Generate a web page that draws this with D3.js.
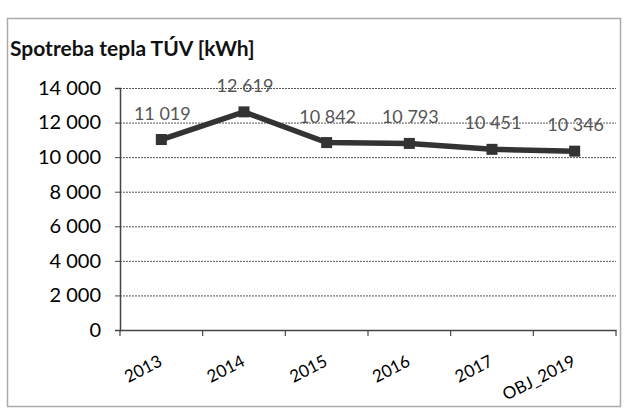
<!DOCTYPE html>
<html><head><meta charset="utf-8">
<script src="https://cdn.jsdelivr.net/npm/d3@7"></script>
<style>body{margin:0;background:#fff}svg{display:block}</style>
</head><body>
<svg id="c" width="627" height="413"></svg>
<script>
const categories = ["2013","2014","2015","2016","2017","OBJ_2019"];
const values = [11019, 12619, 10842, 10793, 10451, 10346];
const valueLabels = ["11 019","12 619","10 842","10 793","10 451","10 346"];
const yTicks = [0,2000,4000,6000,8000,10000,12000,14000];
const title = "Spotreba tepla TÚV [kWh]";

const svg = d3.select("#c");
const font = "Lato, 'Open Sans', sans-serif";
const m = {left:120, right:616, top:88, bottom:330};

// outer frame
svg.append("rect").attr("x",7.5).attr("y",18.5).attr("width",613).attr("height",388)
  .attr("fill","#fff").attr("stroke","#aaa").attr("stroke-width",1.5);

svg.append("text").attr("x",10).attr("y",56).text(title)
  .attr("font-family",font).attr("font-weight","bold").attr("font-size",21).attr("fill","#111");

const x = d3.scaleBand().domain(categories).range([m.left,m.right]);
const y = d3.scaleLinear().domain([0,14000]).range([m.bottom,m.top]);

// gridlines
svg.append("g").selectAll("line").data(yTicks.filter(d=>d>0)).join("line")
  .attr("x1",m.left).attr("x2",m.right)
  .attr("y1",d=>y(d)+0.5).attr("y2",d=>y(d)+0.5)
  .attr("stroke","#555").attr("stroke-width",1).attr("stroke-dasharray","2,1");

// y axis
const ya = svg.append("g").attr("transform",`translate(${m.left},0)`)
  .call(d3.axisLeft(y).tickValues(yTicks).tickSize(5).tickFormat(d=>d3.format(",")(d).replace(/,/g," ")));
ya.select(".domain").attr("stroke","#444").attr("stroke-width",1.5);
ya.selectAll(".tick line").attr("stroke","#444");
ya.selectAll(".tick text").attr("font-family",font).attr("font-size",20).attr("fill","#000").attr("x",-19);

// x axis
const xa = svg.append("g").attr("transform",`translate(0,${m.bottom})`)
  .call(d3.axisBottom(x).tickSize(0).tickFormat(""));
xa.select(".domain").attr("stroke","#444").attr("stroke-width",1.5);
svg.append("g").selectAll("line").data(d3.range(categories.length+1)).join("line")
  .attr("x1",i=>m.left+i*x.step()).attr("x2",i=>m.left+i*x.step())
  .attr("y1",m.bottom).attr("y2",m.bottom+6).attr("stroke","#444").attr("stroke-width",1.2);

svg.append("g").selectAll("text").data(categories).join("text")
  .attr("transform",d=>`translate(${x(d)+x.bandwidth()/2+2},${m.bottom+35}) rotate(-27)`)
  .attr("text-anchor","end").attr("font-family",font).attr("font-size",17).attr("fill","#000")
  .text(d=>d);

// line
const cx = (d,i)=>x(categories[i])+x.bandwidth()/2;
svg.append("path").datum(values)
  .attr("d",d3.line().x(cx).y(d=>y(d)))
  .attr("fill","none").attr("stroke","#333").attr("stroke-width",5.5);
svg.append("g").selectAll("rect").data(values).join("rect")
  .attr("x",(d,i)=>cx(d,i)-5.5).attr("y",d=>y(d)-5.5).attr("width",11).attr("height",11)
  .attr("fill","#333");

// value labels
svg.append("g").selectAll("text").data(values).join("text")
  .attr("x",(d,i)=>cx(d,i)+1).attr("y",d=>y(d)-20)
  .attr("text-anchor","middle").attr("font-family",font).attr("font-size",18).attr("fill","#555")
  .text((d,i)=>valueLabels[i]);
</script>
</body></html>
